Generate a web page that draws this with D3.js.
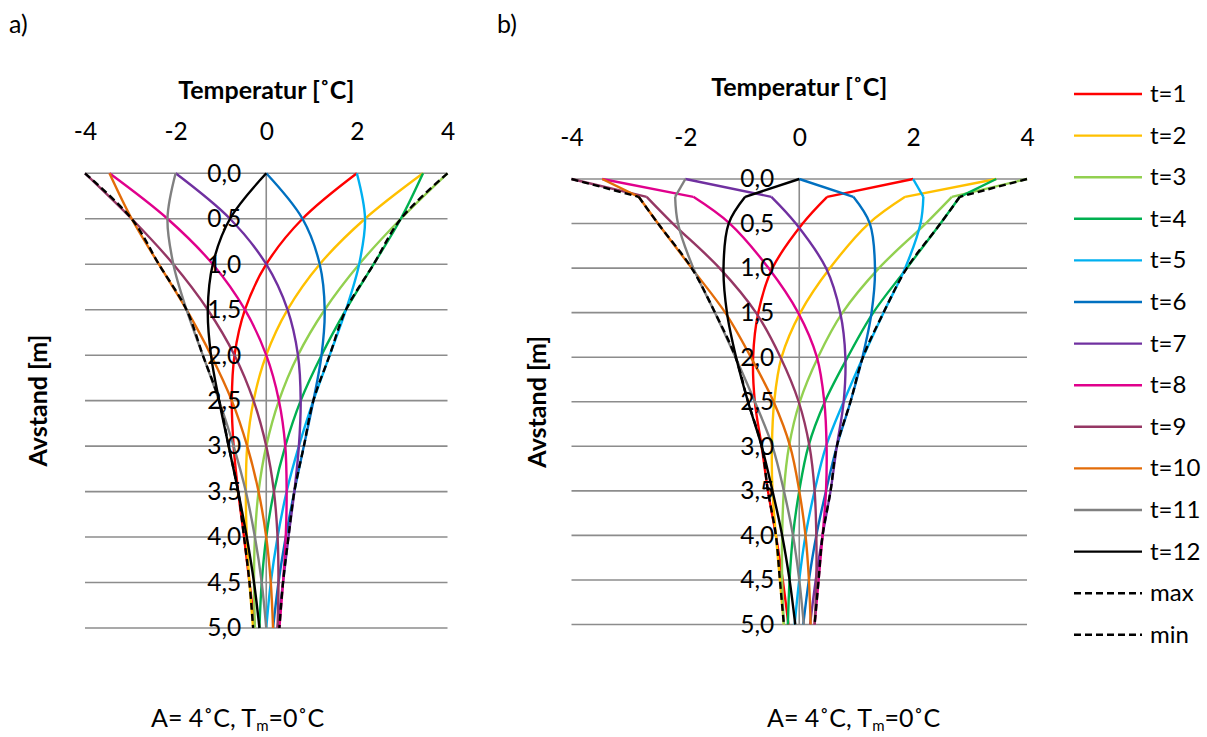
<!DOCTYPE html>
<html>
<head>
<meta charset="utf-8">
<script src="https://cdn.jsdelivr.net/npm/d3@7/dist/d3.min.js"></script>
<style>
  html, body { margin: 0; padding: 0; background: #fff; }
  svg { display: block; }
  text { font-family: Lato, "Open Sans", sans-serif; fill: #000; }
</style>
</head>
<body>
<svg id="chart" width="1207" height="737"></svg>
<script>
// ---- shared axes -------------------------------------------------------
const tempTicks = [-4, -2, 0, 2, 4];
const depthTicks = [0, 0.5, 1, 1.5, 2, 2.5, 3, 3.5, 4, 4.5, 5];
const seriesLabels = ["t=1", "t=2", "t=3", "t=4", "t=5", "t=6", "t=7", "t=8", "t=9", "t=10", "t=11", "t=12", "max", "min"];
const seriesColors = ["#FF0000", "#FFC000", "#92D050", "#00B050", "#00B0F0", "#0070C0",
                      "#7030A0", "#E0008C", "#953764", "#E36C09", "#808080", "#000000", "#000000", "#000000"];

// ---- a) analytical profiles, depth in metres ------------------------------
const depthA = [0, 0.5, 1.0, 1.5, 2.0, 2.5, 3.0, 3.5, 4.0, 4.5, 5.0];
const aT1  = [ 2.00,  0.80,  0.00, -0.47, -0.70, -0.76, -0.72, -0.62, -0.49, -0.37, -0.25];
const aT2  = [ 3.46,  2.18,  1.18,  0.47,  0.00, -0.28, -0.42, -0.45, -0.43, -0.37, -0.29];
const aT3  = [ 4.00,  2.97,  2.05,  1.29,  0.70,  0.28,  0.00, -0.17, -0.25, -0.27, -0.25];
const aT4  = [ 3.46,  2.97,  2.37,  1.76,  1.22,  0.76,  0.42,  0.17,  0.00, -0.10, -0.15];
const aT5  = [ 2.00,  2.18,  2.05,  1.76,  1.40,  1.04,  0.72,  0.45,  0.25,  0.10,  0.00];
const aT6  = [ 0.00,  0.80,  1.18,  1.29,  1.22,  1.04,  0.83,  0.62,  0.43,  0.27,  0.15];
const aT7  = [-2.00, -0.80,  0.00,  0.47,  0.70,  0.76,  0.72,  0.62,  0.49,  0.37,  0.25];
const aT8  = [-3.46, -2.18, -1.18, -0.47,  0.00,  0.28,  0.42,  0.45,  0.43,  0.37,  0.29];
const aT9  = [-4.00, -2.97, -2.05, -1.29, -0.70, -0.28,  0.00,  0.17,  0.25,  0.27,  0.25];
const aT10 = [-3.46, -2.97, -2.37, -1.76, -1.22, -0.76, -0.42, -0.17,  0.00,  0.10,  0.15];
const aT11 = [-2.00, -2.18, -2.05, -1.76, -1.40, -1.04, -0.72, -0.45, -0.25, -0.10,  0.00];
const aT12 = [ 0.00, -0.80, -1.18, -1.29, -1.22, -1.04, -0.83, -0.62, -0.43, -0.27, -0.15];
const aMax = [ 4.00,  2.97,  2.37,  1.76,  1.40,  1.04,  0.83,  0.62,  0.49,  0.37,  0.29];
const aMin = [-4.00, -2.97, -2.37, -1.76, -1.40, -1.04, -0.83, -0.62, -0.49, -0.37, -0.29];

// ---- b) numerical profiles ----------------------------------------------
const depthB = [0, 0.2, 0.5, 1.0, 1.5, 2.0, 2.5, 3.0, 3.5, 4.0, 4.5, 5.0];
const bT1  = [ 2.00,  0.49,  0.06, -0.47, -0.72, -0.81, -0.78, -0.66, -0.55, -0.41, -0.29, -0.19];
const bT2  = [ 3.46,  1.86,  1.22,  0.54,  0.02, -0.31, -0.44, -0.48, -0.47, -0.41, -0.34, -0.27];
const bT3  = [ 4.00,  2.68,  2.22,  1.40,  0.76,  0.33,  0.01, -0.18, -0.27, -0.30, -0.30, -0.27];
const bT4  = [ 3.46,  2.82,  2.48,  1.89,  1.30,  0.85,  0.45,  0.16,  0.00, -0.11, -0.17, -0.20];
const bT5  = [ 2.00,  2.18,  2.13,  1.86,  1.48,  1.12,  0.78,  0.47,  0.27,  0.11,  0.00, -0.08];
const bT6  = [ 0.00,  0.95,  1.24,  1.33,  1.27,  1.11,  0.90,  0.66,  0.47,  0.30,  0.17,  0.07];
const bT7  = [-2.00, -0.49, -0.06,  0.47,  0.72,  0.81,  0.78,  0.66,  0.55,  0.41,  0.29,  0.19];
const bT8  = [-3.46, -1.86, -1.22, -0.54, -0.02,  0.31,  0.44,  0.48,  0.47,  0.41,  0.34,  0.27];
const bT9  = [-4.00, -2.68, -2.22, -1.40, -0.76, -0.33, -0.01,  0.18,  0.27,  0.30,  0.30,  0.27];
const bT10 = [-3.46, -2.82, -2.48, -1.89, -1.30, -0.85, -0.45, -0.16,  0.00,  0.11,  0.17,  0.20];
const bT11 = [-2.00, -2.18, -2.13, -1.86, -1.48, -1.12, -0.78, -0.47, -0.27, -0.11,  0.00,  0.08];
const bT12 = [ 0.00, -0.95, -1.24, -1.33, -1.27, -1.11, -0.90, -0.66, -0.47, -0.30, -0.17, -0.07];
const bMax = [ 4.00,  2.82,  2.48,  1.89,  1.48,  1.12,  0.90,  0.66,  0.55,  0.41,  0.34,  0.27];
const bMin = [-4.00, -2.82, -2.48, -1.89, -1.48, -1.12, -0.90, -0.66, -0.55, -0.41, -0.34, -0.27];

const seriesA = [aT1, aT2, aT3, aT4, aT5, aT6, aT7, aT8, aT9, aT10, aT11, aT12, aMax, aMin];
const seriesB = [bT1, bT2, bT3, bT4, bT5, bT6, bT7, bT8, bT9, bT10, bT11, bT12, bMax, bMin];

const svg = d3.select("#chart");
const fmtDepth = d => d.toFixed(1).replace(".", ",");
const fmtTemp = d => String(d);   // plain hyphen-minus, e.g. "-4"

function drawPanel(opts) {
  const x = d3.scaleLinear().domain([-4, 4]).range(opts.xRange);
  const y = d3.scaleLinear().domain([0, 5]).range(opts.yRange);
  const g = svg.append("g");

  // horizontal gridlines
  g.append("g").selectAll("line").data(depthTicks).join("line")
    .attr("x1", x(-4)).attr("x2", x(4))
    .attr("y1", d => y(d)).attr("y2", d => y(d))
    .attr("stroke", "#8C8C8C").attr("stroke-width", 1.6);
  // vertical axis line at 0 °C
  g.append("line")
    .attr("x1", x(0)).attr("x2", x(0)).attr("y1", y(0)).attr("y2", y(5))
    .attr("stroke", "#8C8C8C").attr("stroke-width", 1.6);

  // temperature ticks on top
  const xAxis = g.append("g").attr("transform", `translate(0,${y(0)})`)
    .call(d3.axisTop(x).tickValues(tempTicks).tickSize(0).tickPadding(33).tickFormat(fmtTemp));
  xAxis.select(".domain").remove();
  xAxis.selectAll("text").attr("font-size", 24.5).attr("font-family", "Lato").attr("fill", "#000");

  g.append("text").attr("x", (opts.xRange[0] + opts.xRange[1]) / 2).attr("y", opts.titleY)
    .attr("text-anchor", "middle").attr("font-size", 25).attr("font-weight", "bold")
    .text("Temperatur [˚C]");

  g.append("text")
    .attr("transform", `translate(${opts.yTitleX},${(opts.yRange[0] + opts.yRange[1]) / 2}) rotate(-90)`)
    .attr("text-anchor", "middle").attr("dy", "0.36em")
    .attr("font-size", 25).attr("font-weight", "bold")
    .text("Avstand [m]");

  // series
  const lineSmooth = d3.line().x(d => x(d.t)).y(d => y(d.z)).curve(d3.curveCatmullRom.alpha(0.5));
  const lineStraight = d3.line().x(d => x(d.t)).y(d => y(d.z));
  opts.series.forEach((vals, i) => {
    const pts = vals.map((t, k) => ({ t: t, z: opts.depth[k] }));
    const dashed = i >= 12;
    const style = sel => sel.attr("fill", "none").attr("stroke", seriesColors[i])
      .attr("stroke-width", 2.4).attr("stroke-dasharray", dashed ? "7,4" : null)
      .attr("stroke-linejoin", "round");
    if (opts.kinkAt) {
      g.append("path").attr("d", lineStraight(pts.slice(0, opts.kinkAt + 1))).call(style);
      g.append("path").attr("d", lineSmooth(pts.slice(opts.kinkAt))).call(style);
    } else {
      g.append("path").attr("d", lineSmooth(pts)).call(style);
    }
  });

  // depth labels beside the 0 °C axis (drawn over the curves)
  const yAxis = g.append("g").attr("transform", `translate(${x(0)},0)`)
    .call(d3.axisLeft(y).tickValues(depthTicks).tickSize(0).tickPadding(25).tickFormat(fmtDepth));
  yAxis.select(".domain").remove();
  yAxis.selectAll("text").attr("font-size", 24.5).attr("font-family", "Lato").attr("fill", "#000");

  // parameter caption
  const cap = svg.append("text").attr("x", opts.capX).attr("y", 727).attr("font-size", 25);
  cap.append("tspan").text("A= 4˚C, T");
  cap.append("tspan").attr("font-size", 15).attr("dy", 4).text("m");
  cap.append("tspan").attr("dy", -4).text("=0˚C");

  svg.append("text").attr("x", opts.tagX).attr("y", 33).attr("font-size", 25).text(opts.tag);
}

drawPanel({ xRange: [85, 447.5], yRange: [173.3, 628], depth: depthA, series: seriesA,
            titleY: 99, yTitleX: 38, capX: 151, tagX: 9, tag: "a)" });
drawPanel({ xRange: [571.5, 1027], yRange: [179, 624.5], depth: depthB, series: seriesB, kinkAt: 1,
            titleY: 96, yTitleX: 537, capX: 767, tagX: 497, tag: "b)" });

// legend
const legend = svg.append("g");
seriesLabels.forEach((lab, i) => {
  const yy = 94 + i * 41.6;
  legend.append("line").attr("x1", 1074).attr("x2", 1142).attr("y1", yy).attr("y2", yy)
    .attr("stroke", seriesColors[i]).attr("stroke-width", 2.4)
    .attr("stroke-dasharray", i >= 12 ? "7,4" : null);
  legend.append("text").attr("x", 1150).attr("y", yy + 8).attr("font-size", 24).text(lab);
});
</script>
</body>
</html>
